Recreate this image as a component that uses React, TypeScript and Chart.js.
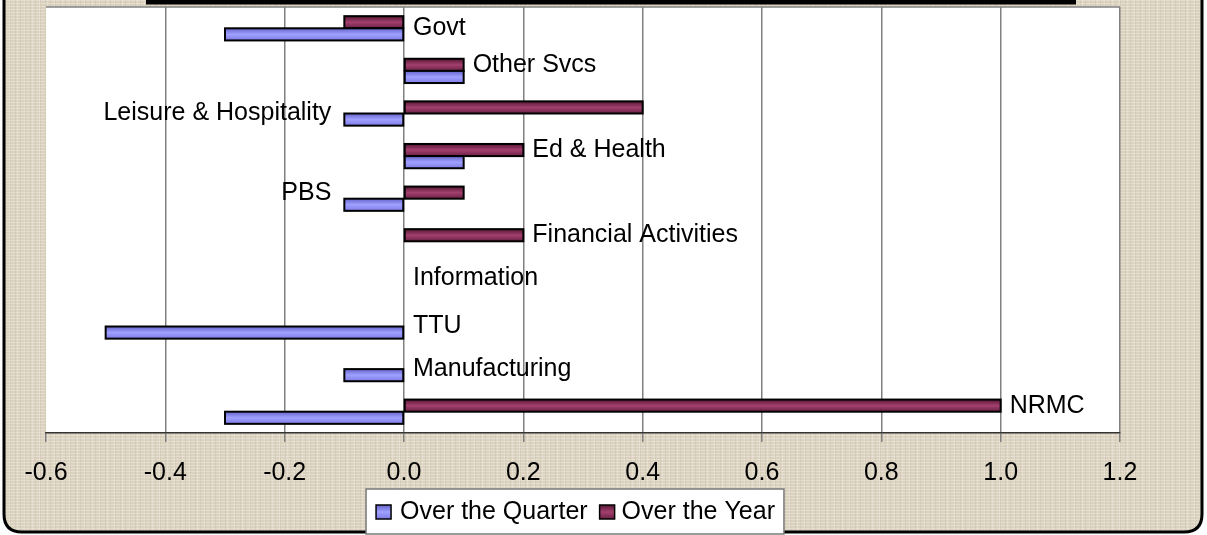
import React, { useEffect, useRef } from 'react';
import { Chart, registerables } from 'chart.js';

Chart.register(...registerables);

// ---------- data ----------
const categories = [
  'Govt',
  'Other Svcs',
  'Leisure & Hospitality',
  'Ed & Health',
  'PBS',
  'Financial Activities',
  'Information',
  'TTU',
  'Manufacturing',
  'NRMC',
];
const overTheQuarter = [-0.3, 0.1, -0.1, 0.1, -0.1, 0, 0, -0.5, -0.1, -0.3];
const overTheYear = [-0.1, 0.1, 0.4, 0.2, 0.1, 0.2, 0, 0, 0, 1.0];
const labelSide = ['right', 'right', 'left', 'right', 'left', 'right', 'right', 'right', 'right', 'right'];
const labelRow = ['center', 'year', 'center', 'year', 'year', 'year', 'year', 'center', 'center', 'year'];
const seriesNames = ['Over the Quarter', 'Over the Year'];
const xMin = -0.6;
const xMax = 1.2;
const xStep = 0.2;

// ---------- styles ----------
const FONT = "'Liberation Sans', Arial, sans-serif";
const quarterColor = '#9999ff';
const yearColor = '#993366';
const quarterStops = ['#6464cc', '#a0a0ff', '#7c7ce6'];
const yearStops = ['#561634', '#a3406e', '#6a2046'];

function makeTexture(): CanvasPattern | string {
  const c = document.createElement('canvas');
  c.width = 15;
  c.height = 12;
  const g = c.getContext('2d');
  if (!g) return '#dbd3c1';
  g.fillStyle = '#dad1be';
  g.fillRect(0, 0, 15, 12);
  g.fillStyle = 'rgba(240,235,224,0.55)';
  for (let r = 0; r < 12; r += 3) g.fillRect(0, r, 15, 1);
  g.fillStyle = 'rgba(195,184,162,0.3)';
  for (let col = 0; col < 15; col += 5) g.fillRect(col, 0, 1, 12);
  g.fillStyle = 'rgba(245,242,235,0.3)';
  g.fillRect(2, 0, 1, 12);
  g.fillRect(9, 0, 1, 12);
  const ctx = document.createElement('canvas').getContext('2d');
  const p = ctx ? ctx.createPattern(c, 'repeat') : null;
  return p || '#dbd3c1';
}

function roundedFrame(ctx: CanvasRenderingContext2D, l: number, t: number, r: number, b: number, rad: number) {
  ctx.beginPath();
  ctx.moveTo(l, t);
  ctx.lineTo(l, b - rad);
  ctx.quadraticCurveTo(l, b, l + rad, b);
  ctx.lineTo(r - rad, b);
  ctx.quadraticCurveTo(r, b, r, b - rad);
  ctx.lineTo(r, t);
}

const backgroundPlugin = {
  id: 'bgPlugin',
  beforeDraw(chart: any) {
    const { ctx, chartArea } = chart;
    const W = chart.width;
    ctx.save();
    ctx.fillStyle = '#ffffff';
    ctx.fillRect(0, 0, W, chart.height);
    roundedFrame(ctx, 4, -20, 1202, 532, 18);
    ctx.closePath();
    ctx.fillStyle = makeTexture();
    ctx.fill();
    roundedFrame(ctx, 4, -20, 1202, 532, 18);
    ctx.lineWidth = 3;
    ctx.strokeStyle = '#000';
    ctx.stroke();
    // title box remnant
    ctx.fillStyle = '#000';
    ctx.fillRect(146, 0, 930, 4.5);
    // plot area
    ctx.fillStyle = '#ffffff';
    ctx.fillRect(chartArea.left, chartArea.top, chartArea.right - chartArea.left, chartArea.bottom - chartArea.top);
    ctx.restore();
  },
  afterDatasetsDraw(chart: any) {
    const { ctx } = chart;
    // gradient sheen on bars
    chart.data.datasets.forEach((ds: any, di: number) => {
      const meta = chart.getDatasetMeta(di);
      const stops = di === 0 ? yearStops : quarterStops;
      meta.data.forEach((el: any) => {
        const { x, y, base, height } = el.getProps(['x', 'y', 'base', 'height'], true);
        const left = Math.min(x, base);
        const w = Math.abs(x - base);
        if (w < 1) return;
        const top = y - height / 2;
        const g = ctx.createLinearGradient(0, top, 0, top + height);
        g.addColorStop(0, stops[0]);
        g.addColorStop(0.5, stops[1]);
        g.addColorStop(1, stops[2]);
        ctx.save();
        ctx.fillStyle = g;
        ctx.fillRect(left, top, w, height);
        ctx.lineWidth = 2;
        ctx.strokeStyle = '#000';
        ctx.strokeRect(left, top, w, height);
        ctx.restore();
      });
    });
    // category labels
    const xs = chart.scales.x;
    const ys = chart.scales.y;
    const yearMeta = chart.getDatasetMeta(0);
    ctx.save();
    ctx.font = `25px ${FONT}`;
    ctx.fillStyle = '#000';
    ctx.textBaseline = 'middle';
    categories.forEach((name, i) => {
      const catY = ys.getPixelForValue(i);
      const y = labelRow[i] === 'year' ? yearMeta.data[i].y : catY;
      if (labelSide[i] === 'right') {
        const v = Math.max(0, overTheYear[i], overTheQuarter[i]);
        ctx.textAlign = 'left';
        ctx.fillText(name, xs.getPixelForValue(v) + 9, y);
      } else {
        const v = Math.min(0, overTheYear[i], overTheQuarter[i]);
        ctx.textAlign = 'right';
        ctx.fillText(name, xs.getPixelForValue(v) - 13, y);
      }
    });
    ctx.restore();
  },
  afterDraw(chart: any) {
    const { ctx, chartArea } = chart;
    ctx.save();
    // plot border top
    ctx.strokeStyle = '#808080';
    ctx.lineWidth = 1.5;
    ctx.beginPath();
    ctx.moveTo(chartArea.left, chartArea.top);
    ctx.lineTo(chartArea.right, chartArea.top);
    ctx.stroke();

    // legend
    ctx.font = `25px ${FONT}`;
    const tw0 = ctx.measureText(seriesNames[0]).width;
    const tw1 = ctx.measureText(seriesNames[1]).width;
    const total = 10 + 15 + 9 + tw0 + 12 + 15 + 7 + tw1 + 9;
    const left = 575 - total / 2;
    const top = 489;
    const h = 45;
    ctx.fillStyle = '#fff';
    ctx.fillRect(left, top, total, h);
    ctx.strokeStyle = '#7a7a7a';
    ctx.lineWidth = 1.5;
    ctx.strokeRect(left, top, total, h);
    const cy = 512;
    const items = [
      { name: seriesNames[0], stops: quarterStops, w: tw0 },
      { name: seriesNames[1], stops: yearStops, w: tw1 },
    ];
    let x = left + 10;
    items.forEach((it, k) => {
      const g = ctx.createLinearGradient(0, cy - 7, 0, cy + 7);
      g.addColorStop(0, it.stops[0]);
      g.addColorStop(0.5, it.stops[1]);
      g.addColorStop(1, it.stops[2]);
      ctx.fillStyle = g;
      ctx.fillRect(x, cy - 7, 15, 14);
      ctx.strokeStyle = '#000';
      ctx.lineWidth = 1.5;
      ctx.strokeRect(x, cy - 7, 15, 14);
      x += 15 + (k === 0 ? 9 : 7);
      ctx.fillStyle = '#000';
      ctx.textAlign = 'left';
      ctx.textBaseline = 'middle';
      ctx.fillText(it.name, x, cy);
      x += it.w + 12;
    });
    ctx.restore();
  },
};

export default function App() {
  const canvasRef = useRef<HTMLCanvasElement | null>(null);

  useEffect(() => {
    document.body.style.margin = '0';
    const canvas = canvasRef.current;
    if (!canvas) return;
    const chart = new Chart(canvas, {
      type: 'bar',
      data: {
        labels: categories,
        datasets: [
          {
            label: seriesNames[1],
            data: overTheYear,
            backgroundColor: yearColor,
            borderColor: '#000',
            borderWidth: 2,
            borderSkipped: false,
            categoryPercentage: 0.57,
            barPercentage: 1,
          },
          {
            label: seriesNames[0],
            data: overTheQuarter,
            backgroundColor: quarterColor,
            borderColor: '#000',
            borderWidth: 2,
            borderSkipped: false,
            categoryPercentage: 0.57,
            barPercentage: 1,
          },
        ],
      },
      options: {
        indexAxis: 'y',
        responsive: false,
        animation: false,
        events: [],
        layout: { padding: { left: 46, right: 87, top: 7, bottom: 31 } },
        plugins: {
          legend: { display: false },
          tooltip: { enabled: false },
          title: { display: false },
        },
        scales: {
          y: {
            type: 'category',
            display: false,
          },
          x: {
            type: 'linear',
            min: xMin,
            max: xMax,
            grid: {
              color: (c: any) => (c.index === 0 ? 'rgba(0,0,0,0)' : '#808080'),
              tickColor: '#808080',
              lineWidth: 1.5,
              tickLength: 9,
              drawTicks: true,
            },
            border: { color: '#333333', width: 1.5 },
            ticks: {
              stepSize: xStep,
              padding: 16,
              color: '#000',
              font: { family: FONT, size: 25 },
              maxRotation: 0,
              callback: (v: any) => {
                const n = Number(v);
                return Math.abs(n) < 1e-9 ? '0.0' : n.toFixed(1);
              },
            },
          },
        },
      },
      plugins: [backgroundPlugin],
    });
    return () => chart.destroy();
  }, []);

  return (
    <div style={{ position: 'absolute', left: 0, top: 0, width: 1207, height: 535 }}>
      <canvas ref={canvasRef} width={1207} height={535} style={{ display: 'block' }} />
    </div>
  );
}
